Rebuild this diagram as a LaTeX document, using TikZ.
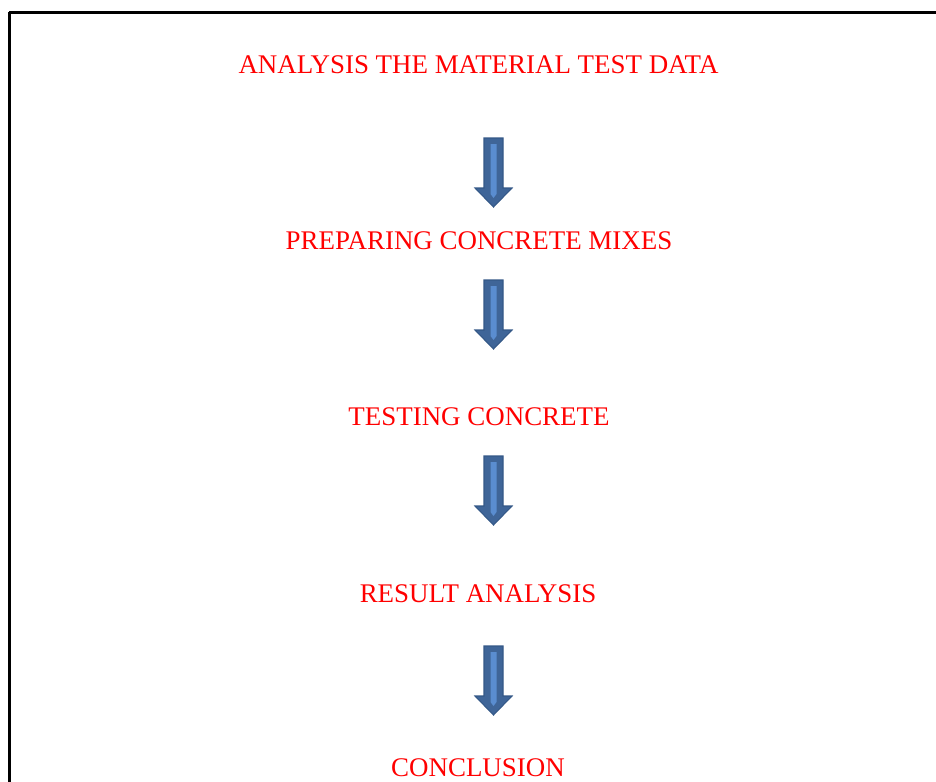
\documentclass[tikz,border=0pt]{standalone}
\usepackage{fontspec}
\setmainfont{Liberation Serif}
\usepackage{xcolor}
\usepackage{tikz}

\definecolor{stepred}{HTML}{FF0000}
\definecolor{arrowline}{HTML}{345887}
\definecolor{arrowfill}{HTML}{3F6598}
\definecolor{arrowlight}{HTML}{5A8DD0}

\begin{document}
\begin{tikzpicture}[x=0.75pt,y=-0.75pt]
			\tikzstyle{stage} = [anchor=base, inner sep=0pt, text=stepred, font=\fontsize{20.2}{24}\selectfont]
			\tikzstyle{frame} = [draw=black, line width=2.25pt]
			\tikzset{blockarrow/.pic = {
					\filldraw[draw=arrowline, fill=arrowfill, line width=0.8pt, line join=miter]
						(-9.5,0) -- (9.5,0) -- (9.5,50) -- (18.5,50) -- (0,69) -- (-18.5,50) -- (-9.5,50) -- cycle;
					\fill[arrowlight] (-3,6) -- (3,6) -- (3,56) -- (0,60) -- (-3,56) -- cycle;
				}}
			
			\useasboundingbox (0,0) rectangle (936,782);
			\draw[frame] (9,12) -- (940,12);
			\draw[frame] (9,12) -- (9,790);
			
			\node[stage](analysis) at (478.5,73) {ANALYSIS THE MATERIAL TEST DATA};
			\node[stage](mixes) at (479,249) {PREPARING CONCRETE MIXES};
			\node[stage](testing) at (479,425) {TESTING CONCRETE};
			\node[stage](result) at (478,602) {RESULT ANALYSIS};
			\node[stage](conclusion) at (478,776) {CONCLUSION};
			
			\pic at (493.5,138) {blockarrow};
			\pic at (493.5,280) {blockarrow};
			\pic at (493.5,456) {blockarrow};
			\pic at (493.5,646) {blockarrow};
			
			\end{tikzpicture}
\end{document}
